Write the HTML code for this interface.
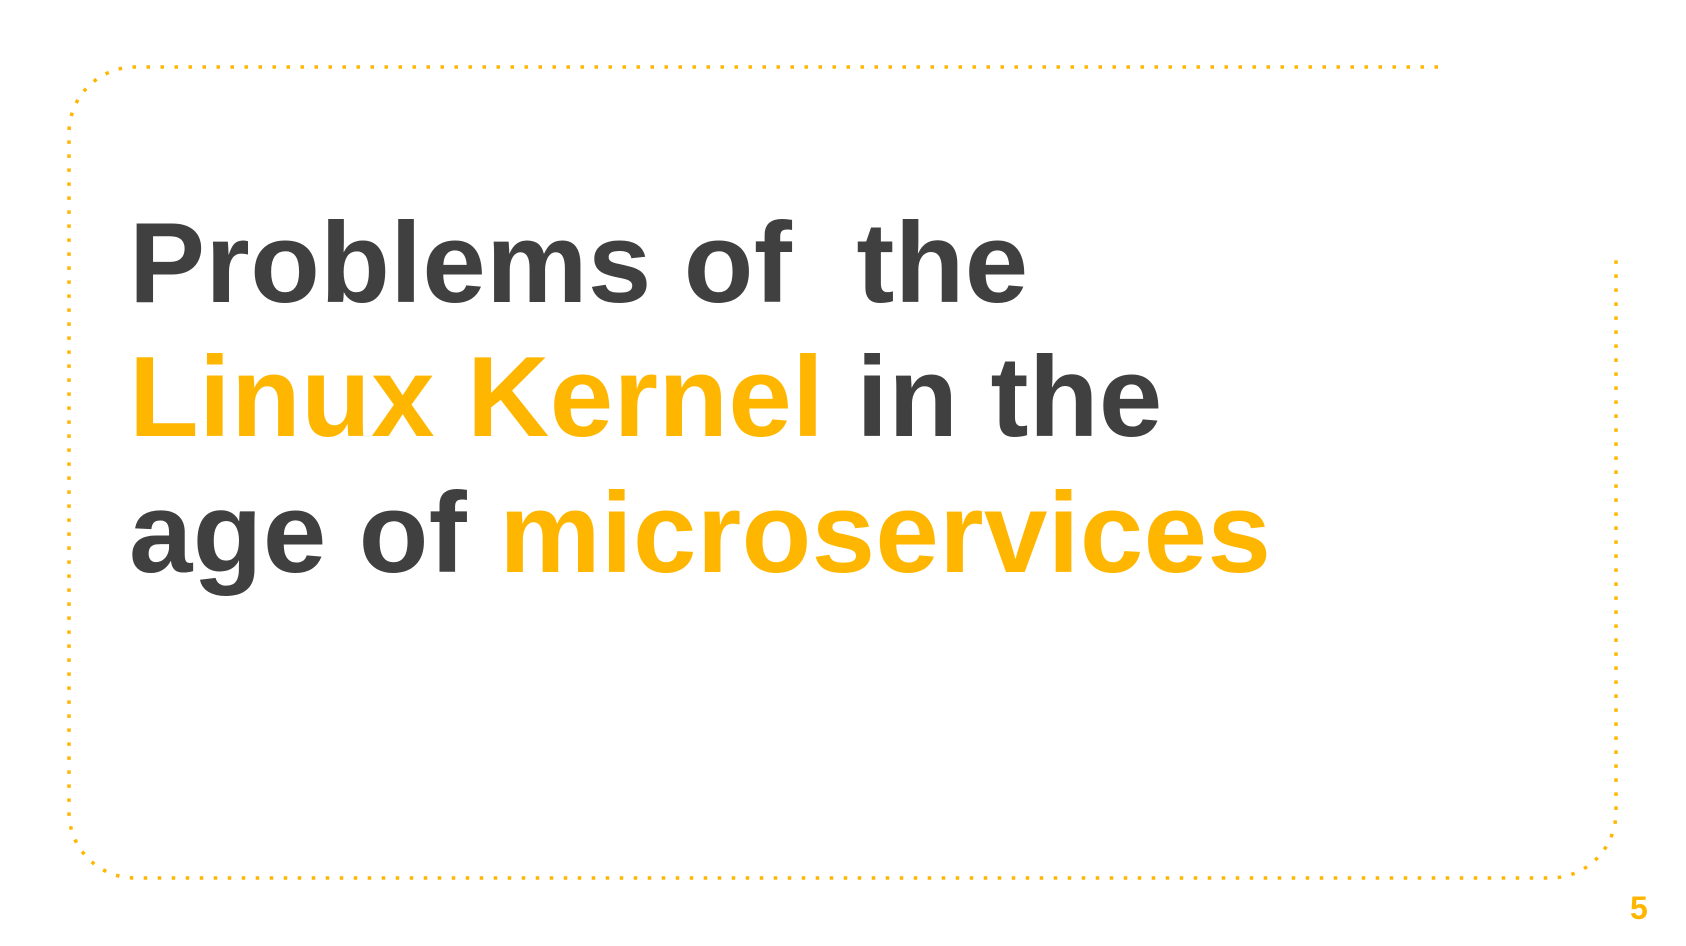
<!DOCTYPE html>
<html><head><meta charset="utf-8"><style>
html,body{margin:0;padding:0;background:#fff;}
body{width:1686px;height:946px;position:relative;overflow:hidden;font-family:"Liberation Sans",sans-serif;}
.t{position:absolute;left:129px;font-weight:bold;font-size:114px;line-height:1;white-space:pre;color:#404040;letter-spacing:0.4px;}
.o{color:#FFB600;}
.pg{position:absolute;left:1630px;top:890px;font-size:32px;font-weight:bold;color:#FFB600;}
</style></head><body>
<svg width="1686" height="946" style="position:absolute;left:0;top:0">
<path d="M1438 67 H135 A66 66 0 0 0 69 133 V812 A66 66 0 0 0 135 878 H1550 A66 66 0 0 0 1616 812 V256" fill="none" stroke="#FFB600" stroke-width="3.5" stroke-linecap="butt" stroke-dasharray="3.5 10.5"/>
</svg>
<div class="t" style="top:207px">Problems of  the</div>
<div class="t" style="top:341px"><span class="o">Linux Kernel</span> in the</div>
<div class="t" style="top:477px">age of <span class="o">microservices</span></div>
<div class="pg">5</div>
</body></html>
